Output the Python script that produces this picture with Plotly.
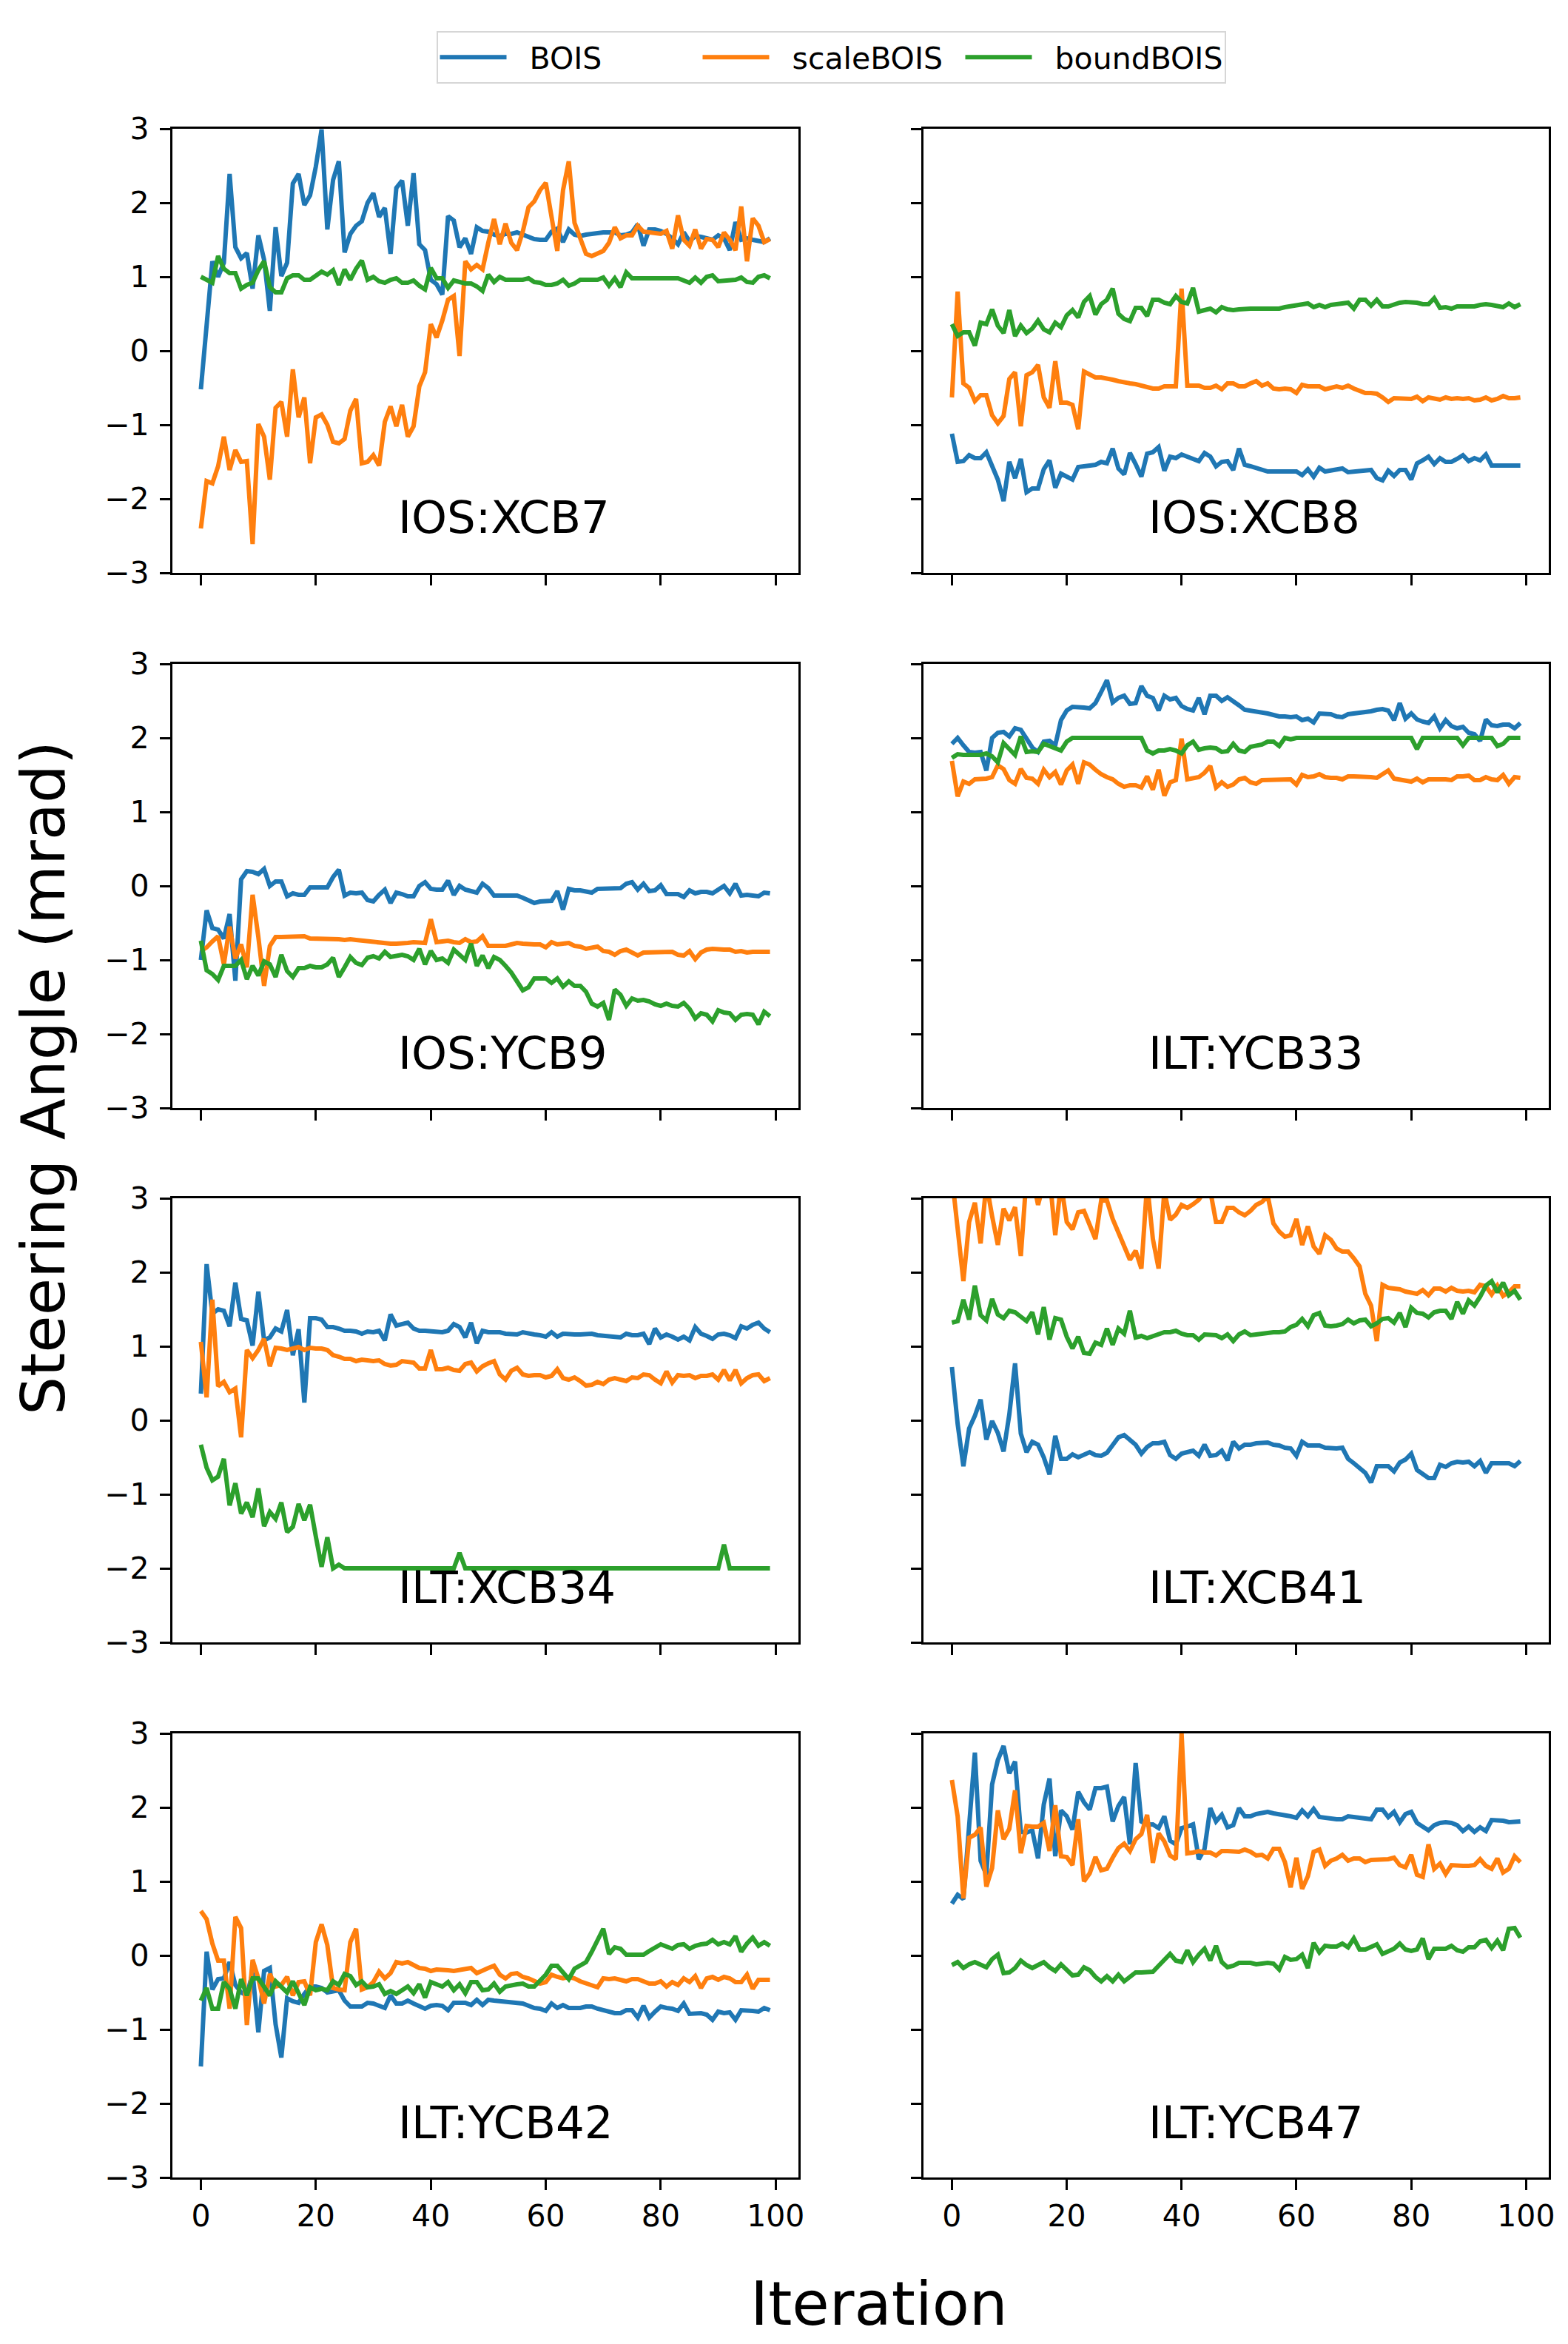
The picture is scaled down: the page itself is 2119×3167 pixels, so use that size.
import plotly.graph_objects as go

# iteration index shared by every panel
iterations = list(range(100))

# ---- IOS:XCB7 ----
xcb7_bois = [-0.52, 0.36, 1.21, 1.0, 1.19, 2.39, 1.40, 1.25, 1.32, 0.84,
             1.56, 1.23, 0.54, 1.67, 1.01, 1.19, 2.26, 2.39, 1.97, 2.10,
             2.49, 2.99, 1.64, 2.31, 2.56, 1.33, 1.58, 1.69, 1.75, 2.0,
             2.13, 1.81, 1.93, 1.31, 2.20, 2.30, 1.69, 2.40, 1.44, 1.36,
             0.96, 0.90, 0.76, 1.82, 1.76, 1.40, 1.52, 1.31, 1.67, 1.62,
             1.61, 1.57, 1.55, 1.58, 1.58, 1.60, 1.57, 1.54, 1.51, 1.50,
             1.50, 1.61, 1.65, 1.47, 1.64, 1.57, 1.55, 1.57, 1.58, 1.60,
             1.60, 1.60, 1.60, 1.56, 1.57, 1.60, 1.71, 1.42, 1.64, 1.64,
             1.62, 1.58, 1.52, 1.44, 1.60, 1.48, 1.55, 1.54, 1.52, 1.50,
             1.56, 1.52, 1.36, 1.74, 1.50, 1.52, 1.50, 1.48, 1.47, 1.52]
xcb7_scale = [-2.40, -1.76, -1.79, -1.56, -1.16, -1.61, -1.34, -1.50, -1.49, -2.61,
              -0.99, -1.16, -1.74, -0.77, -0.69, -1.16, -0.25, -0.90, -0.63, -1.52,
              -0.90, -0.86, -1.0, -1.23, -1.25, -1.19, -0.81, -0.65, -1.52, -1.50,
              -1.41, -1.55, -0.96, -0.75, -1.02, -0.73, -1.16, -1.02, -0.48, -0.29,
              0.36, 0.18, 0.41, 0.69, 0.74, -0.07, 1.21, 1.10, 1.16, 1.10,
              1.46, 1.78, 1.44, 1.72, 1.46, 1.36, 1.61, 1.94, 2.02, 2.17,
              2.27, 1.81, 1.35, 2.17, 2.56, 1.73, 1.52, 1.31, 1.28, 1.31,
              1.35, 1.46, 1.67, 1.52, 1.56, 1.56, 1.69, 1.61, 1.60, 1.60,
              1.58, 1.62, 1.38, 1.83, 1.50, 1.42, 1.64, 1.38, 1.51, 1.50,
              1.40, 1.60, 1.50, 1.36, 1.95, 1.21, 1.79, 1.69, 1.47, 1.51]
xcb7_bound = [1.0, 0.96, 0.92, 1.28, 1.11, 1.05, 1.05, 0.84, 0.89, 0.92,
              1.09, 1.21, 0.86, 0.79, 0.79, 0.98, 1.02, 1.02, 0.96, 0.96,
              1.02, 1.07, 1.03, 1.09, 0.89, 1.10, 0.96, 1.11, 1.22, 0.96,
              1.0, 0.94, 0.92, 0.96, 0.98, 0.92, 0.92, 0.95, 0.88, 0.83,
              1.12, 0.98, 0.98, 0.85, 0.95, 0.93, 0.91, 0.91, 0.87, 0.81,
              1.03, 0.93, 1.0, 0.96, 0.96, 0.96, 0.96, 0.98, 0.93, 0.92,
              0.89, 0.89, 0.91, 0.96, 0.88, 0.91, 0.96, 0.96, 0.96, 0.96,
              0.99, 0.88, 0.98, 0.86, 1.06, 0.98, 0.98, 0.98, 0.98, 0.99,
              0.99, 0.98, 0.98, 0.98, 0.95, 0.92, 0.99, 0.92, 1.0, 1.02,
              0.94, 0.95, 0.95, 0.96, 0.99, 0.93, 0.92, 1.0, 1.02, 0.98]

# ---- IOS:XCB8 ----
xcb8_bois = [-1.12, -1.50, -1.49, -1.41, -1.45, -1.45, -1.37, -1.56, -1.74, -2.03,
             -1.50, -1.72, -1.46, -1.91, -1.86, -1.86, -1.60, -1.48, -1.85, -1.66,
             -1.70, -1.74, -1.57, -1.56, -1.55, -1.54, -1.50, -1.52, -1.32, -1.59,
             -1.67, -1.38, -1.53, -1.70, -1.39, -1.37, -1.30, -1.62, -1.43, -1.45,
             -1.40, -1.43, -1.45, -1.49, -1.38, -1.43, -1.56, -1.50, -1.49, -1.61,
             -1.32, -1.54, -1.56, -1.58, -1.60, -1.63, -1.63, -1.63, -1.64, -1.63,
             -1.63, -1.68, -1.60, -1.70, -1.58, -1.63, -1.62, -1.60, -1.59, -1.64,
             -1.63, -1.62, -1.61, -1.61, -1.72, -1.75, -1.62, -1.69, -1.61, -1.61,
             -1.74, -1.52, -1.48, -1.43, -1.53, -1.45, -1.50, -1.50, -1.46, -1.41,
             -1.49, -1.45, -1.48, -1.40, -1.55, -1.55, -1.54, -1.55, -1.55, -1.55]
xcb8_scale = [-0.63, 0.80, -0.44, -0.50, -0.68, -0.60, -0.60, -0.87, -0.98, -0.88,
              -0.38, -0.29, -1.02, -0.33, -0.29, -0.19, -0.63, -0.77, -0.14, -0.70,
              -0.70, -0.73, -1.06, -0.28, -0.32, -0.36, -0.36, -0.37, -0.39, -0.41,
              -0.43, -0.44, -0.45, -0.47, -0.50, -0.51, -0.51, -0.48, -0.48, -0.48,
              0.84, -0.47, -0.47, -0.47, -0.50, -0.50, -0.47, -0.52, -0.44, -0.44,
              -0.48, -0.48, -0.44, -0.41, -0.47, -0.44, -0.51, -0.52, -0.51, -0.52,
              -0.57, -0.46, -0.48, -0.48, -0.48, -0.52, -0.50, -0.48, -0.50, -0.47,
              -0.51, -0.54, -0.57, -0.57, -0.58, -0.63, -0.69, -0.64, -0.64, -0.64,
              -0.65, -0.62, -0.68, -0.63, -0.64, -0.66, -0.63, -0.65, -0.64, -0.65,
              -0.64, -0.67, -0.66, -0.63, -0.67, -0.65, -0.61, -0.64, -0.64, -0.63]
xcb8_bound = [0.36, 0.20, 0.25, 0.25, 0.07, 0.38, 0.36, 0.56, 0.34, 0.24,
              0.55, 0.20, 0.34, 0.24, 0.30, 0.41, 0.29, 0.25, 0.38, 0.32,
              0.48, 0.55, 0.45, 0.66, 0.74, 0.49, 0.63, 0.69, 0.84, 0.50,
              0.43, 0.40, 0.58, 0.58, 0.47, 0.69, 0.69, 0.65, 0.63, 0.74,
              0.66, 0.64, 0.85, 0.53, 0.55, 0.57, 0.52, 0.59, 0.56, 0.55,
              0.56, 0.57, 0.57, 0.57, 0.57, 0.57, 0.57, 0.57, 0.59, 0.60,
              0.62, 0.63, 0.64, 0.59, 0.62, 0.59, 0.62, 0.63, 0.64, 0.65,
              0.57, 0.69, 0.69, 0.61, 0.69, 0.60, 0.60, 0.63, 0.65, 0.66,
              0.66, 0.65, 0.63, 0.63, 0.71, 0.58, 0.59, 0.57, 0.60, 0.60,
              0.59, 0.60, 0.62, 0.63, 0.62, 0.60, 0.59, 0.64, 0.59, 0.63]

# ---- IOS:YCB9 ----
ycb9_bois = [-1.0, -0.33, -0.57, -0.59, -0.71, -0.38, -1.28, 0.09, 0.20, 0.19,
             0.16, 0.23, 0.0, 0.06, 0.06, -0.14, -0.10, -0.12, -0.12, -0.02,
             -0.02, -0.02, -0.02, 0.12, 0.22, -0.13, -0.09, -0.10, -0.09, -0.19,
             -0.21, -0.12, -0.05, -0.23, -0.09, -0.11, -0.14, -0.14, 0.0, 0.05,
             -0.04, -0.05, -0.05, 0.07, -0.12, 0.0, -0.05, -0.07, -0.09, 0.03,
             -0.03, -0.13, -0.13, -0.13, -0.13, -0.13, -0.16, -0.19, -0.23, -0.21,
             -0.20, -0.20, -0.07, -0.32, -0.04, -0.06, -0.06, -0.07, -0.09, -0.04,
             -0.04, -0.04, -0.04, -0.03, 0.03, 0.05, -0.05, 0.03, -0.07, -0.06,
             0.01, -0.11, -0.11, -0.11, -0.15, -0.06, -0.10, -0.08, -0.08, -0.10,
             -0.05, 0.0, -0.10, 0.03, -0.13, -0.12, -0.13, -0.14, -0.09, -0.10]
ycb9_scale = [-0.88, -0.83, -0.75, -0.68, -1.06, -0.55, -0.98, -0.79, -1.10, -0.12,
              -0.69, -1.35, -0.81, -0.69, -0.69, -0.69, -0.68, -0.69, -0.68, -0.71,
              -0.71, -0.71, -0.71, -0.72, -0.72, -0.73, -0.72, -0.73, -0.74, -0.75,
              -0.76, -0.76, -0.77, -0.78, -0.78, -0.78, -0.77, -0.76, -0.77, -0.77,
              -0.45, -0.76, -0.75, -0.74, -0.76, -0.77, -0.72, -0.76, -0.75, -0.68,
              -0.81, -0.81, -0.81, -0.81, -0.79, -0.77, -0.78, -0.79, -0.79, -0.79,
              -0.83, -0.76, -0.79, -0.78, -0.77, -0.81, -0.82, -0.85, -0.83, -0.82,
              -0.88, -0.89, -0.93, -0.88, -0.86, -0.90, -0.94, -0.90, -0.90, -0.90,
              -0.90, -0.90, -0.89, -0.93, -0.94, -0.88, -0.99, -0.90, -0.86, -0.85,
              -0.86, -0.86, -0.86, -0.89, -0.88, -0.90, -0.89, -0.89, -0.90, -0.89]
ycb9_bound = [-0.74, -1.14, -1.19, -1.27, -1.08, -1.08, -1.08, -1.0, -1.26, -1.08,
              -1.21, -1.02, -1.06, -1.23, -0.93, -1.15, -1.23, -1.11, -1.11, -1.08,
              -1.10, -1.10, -1.06, -0.97, -1.23, -1.10, -0.96, -1.04, -1.07, -0.97,
              -0.95, -0.98, -0.89, -0.96, -0.94, -0.93, -0.95, -1.0, -0.85, -1.06,
              -0.88, -1.0, -0.98, -1.04, -0.86, -0.94, -1.0, -0.78, -1.08, -0.94,
              -1.11, -0.96, -1.0, -1.08, -1.17, -1.29, -1.41, -1.37, -1.25, -1.25,
              -1.25, -1.31, -1.25, -1.36, -1.29, -1.35, -1.35, -1.43, -1.59, -1.63,
              -1.58, -1.81, -1.40, -1.47, -1.62, -1.52, -1.55, -1.54, -1.56, -1.60,
              -1.62, -1.59, -1.62, -1.63, -1.58, -1.66, -1.79, -1.72, -1.74, -1.83,
              -1.68, -1.71, -1.72, -1.81, -1.74, -1.73, -1.74, -1.87, -1.70, -1.76]

# ---- ILT:YCB33 ----
ycb33_bois = [1.92, 2.0, 1.90, 1.81, 1.80, 1.81, 1.56, 2.0, 2.07, 2.08,
              2.02, 2.13, 2.11, 1.99, 1.87, 1.81, 1.95, 1.96, 1.90, 2.24,
              2.37, 2.42, 2.42, 2.41, 2.40, 2.47, 2.62, 2.78, 2.48, 2.54,
              2.57, 2.46, 2.47, 2.70, 2.57, 2.54, 2.37, 2.57, 2.52, 2.54,
              2.43, 2.39, 2.37, 2.54, 2.32, 2.57, 2.57, 2.50, 2.55, 2.50,
              2.44, 2.38, 2.37, 2.36, 2.35, 2.33, 2.31, 2.29, 2.29, 2.28,
              2.29, 2.24, 2.26, 2.21, 2.33, 2.33, 2.32, 2.29, 2.28, 2.32,
              2.33, 2.33, 2.35, 2.36, 2.38, 2.39, 2.37, 2.24, 2.47, 2.26,
              2.33, 2.25, 2.22, 2.20, 2.29, 2.13, 2.24, 2.16, 2.13, 2.15,
              2.07, 2.05, 1.96, 2.25, 2.17, 2.16, 2.18, 2.18, 2.13, 2.20]
ycb33_scale = [1.69, 1.21, 1.41, 1.38, 1.44, 1.44, 1.45, 1.47, 1.63, 1.58,
               1.43, 1.38, 1.58, 1.46, 1.45, 1.38, 1.57, 1.47, 1.54, 1.37,
               1.56, 1.64, 1.38, 1.67, 1.64, 1.57, 1.51, 1.47, 1.44, 1.38,
               1.34, 1.36, 1.36, 1.33, 1.48, 1.30, 1.57, 1.22, 1.40, 1.43,
               1.99, 1.44, 1.46, 1.47, 1.53, 1.62, 1.33, 1.40, 1.34, 1.37,
               1.44, 1.46, 1.40, 1.38, 1.43, 1.43, 1.43, 1.43, 1.44, 1.44,
               1.37, 1.50, 1.47, 1.48, 1.51, 1.47, 1.46, 1.46, 1.44, 1.48,
               1.48, 1.48, 1.47, 1.47, 1.46, 1.51, 1.56, 1.45, 1.44, 1.43,
               1.41, 1.45, 1.40, 1.44, 1.44, 1.45, 1.44, 1.43, 1.48, 1.48,
               1.49, 1.43, 1.43, 1.47, 1.44, 1.43, 1.50, 1.38, 1.47, 1.46]
ycb33_bound = [1.73, 1.78, 1.77, 1.77, 1.77, 1.77, 1.79, 1.75, 1.67, 1.93,
               1.85, 1.77, 2.02, 1.81, 1.82, 1.81, 1.92, 1.89, 1.86, 1.83,
               1.95, 2.0, 2.0, 2.0, 2.0, 2.0, 2.0, 2.0, 2.0, 2.0,
               2.0, 2.0, 2.0, 2.0, 1.83, 1.79, 1.83, 1.83, 1.85, 1.83,
               1.79, 1.90, 1.95, 1.84, 1.86, 1.87, 1.86, 1.81, 1.82, 1.92,
               1.83, 1.81, 1.88, 1.89, 1.91, 1.95, 1.95, 1.89, 2.0, 1.98,
               2.0, 2.0, 2.0, 2.0, 2.0, 2.0, 2.0, 2.0, 2.0, 2.0,
               2.0, 2.0, 2.0, 2.0, 2.0, 2.0, 2.0, 2.0, 2.0, 2.0,
               2.0, 1.85, 2.0, 2.0, 2.0, 2.0, 2.0, 2.0, 2.0, 1.90,
               2.0, 2.0, 2.0, 2.0, 2.0, 1.89, 1.92, 2.0, 2.0, 2.0]

# ---- ILT:XCB34 ----
xcb34_bois = [0.36, 2.11, 1.44, 1.50, 1.48, 1.27, 1.86, 1.37, 1.35, 1.01,
              1.74, 1.08, 1.12, 1.24, 1.20, 1.49, 0.88, 1.23, 0.24, 1.38,
              1.38, 1.36, 1.26, 1.26, 1.24, 1.21, 1.21, 1.20, 1.17, 1.20,
              1.19, 1.21, 1.08, 1.43, 1.28, 1.30, 1.32, 1.24, 1.21, 1.21,
              1.20, 1.19, 1.19, 1.21, 1.30, 1.26, 1.12, 1.32, 1.04, 1.21,
              1.19, 1.19, 1.19, 1.17, 1.16, 1.16, 1.19, 1.17, 1.16, 1.15,
              1.13, 1.19, 1.13, 1.17, 1.16, 1.16, 1.16, 1.16, 1.17, 1.15,
              1.14, 1.13, 1.13, 1.12, 1.17, 1.15, 1.15, 1.17, 1.03, 1.24,
              1.12, 1.16, 1.13, 1.09, 1.13, 1.08, 1.26, 1.17, 1.14, 1.10,
              1.16, 1.17, 1.15, 1.11, 1.27, 1.24, 1.29, 1.32, 1.24, 1.19]
xcb34_scale = [1.06, 0.31, 1.63, 0.46, 0.52, 0.38, 0.43, -0.23, 0.95, 0.84,
               0.95, 1.10, 0.73, 0.98, 0.97, 0.95, 0.97, 0.99, 0.95, 0.98,
               0.97, 0.97, 0.95, 0.88, 0.86, 0.83, 0.83, 0.80, 0.82, 0.81,
               0.80, 0.81, 0.76, 0.74, 0.75, 0.80, 0.79, 0.78, 0.70, 0.70,
               0.95, 0.69, 0.69, 0.71, 0.68, 0.67, 0.76, 0.78, 0.66, 0.73,
               0.77, 0.80, 0.62, 0.55, 0.67, 0.71, 0.62, 0.60, 0.61, 0.61,
               0.58, 0.60, 0.69, 0.57, 0.55, 0.58, 0.53, 0.47, 0.48, 0.52,
               0.49, 0.55, 0.57, 0.55, 0.53, 0.58, 0.57, 0.62, 0.61, 0.55,
               0.50, 0.66, 0.51, 0.61, 0.60, 0.61, 0.57, 0.60, 0.60, 0.62,
               0.55, 0.68, 0.54, 0.68, 0.50, 0.57, 0.61, 0.62, 0.53, 0.57]
xcb34_bound = [-0.33, -0.64, -0.81, -0.76, -0.52, -1.15, -0.85, -1.26, -1.11, -1.31,
               -0.92, -1.43, -1.24, -1.33, -1.11, -1.51, -1.44, -1.13, -1.35, -1.14,
               -1.57, -1.98, -1.58, -2.0, -1.95, -2.0, -2.0, -2.0, -2.0, -2.0,
               -2.0, -2.0, -2.0, -2.0, -2.0, -2.0, -2.0, -2.0, -2.0, -2.0,
               -2.0, -2.0, -2.0, -2.0, -2.0, -1.79, -2.0, -2.0, -2.0, -2.0,
               -2.0, -2.0, -2.0, -2.0, -2.0, -2.0, -2.0, -2.0, -2.0, -2.0,
               -2.0, -2.0, -2.0, -2.0, -2.0, -2.0, -2.0, -2.0, -2.0, -2.0,
               -2.0, -2.0, -2.0, -2.0, -2.0, -2.0, -2.0, -2.0, -2.0, -2.0,
               -2.0, -2.0, -2.0, -2.0, -2.0, -2.0, -2.0, -2.0, -2.0, -2.0,
               -2.0, -1.68, -2.0, -2.0, -2.0, -2.0, -2.0, -2.0, -2.0, -2.0]

# ---- ILT:XCB41 ----
xcb41_bois = [0.72, -0.05, -0.62, -0.11, 0.06, 0.28, -0.26, -0.01, -0.17, -0.42,
              0.08, 0.77, -0.18, -0.43, -0.29, -0.33, -0.50, -0.73, -0.21, -0.52,
              -0.52, -0.46, -0.50, -0.47, -0.43, -0.47, -0.48, -0.44, -0.33, -0.23,
              -0.20, -0.27, -0.33, -0.45, -0.36, -0.31, -0.31, -0.29, -0.47, -0.52,
              -0.45, -0.43, -0.41, -0.48, -0.33, -0.48, -0.47, -0.41, -0.54, -0.29,
              -0.38, -0.33, -0.33, -0.31, -0.30, -0.30, -0.33, -0.34, -0.37, -0.38,
              -0.48, -0.29, -0.34, -0.34, -0.34, -0.37, -0.38, -0.38, -0.37, -0.52,
              -0.58, -0.64, -0.71, -0.84, -0.62, -0.62, -0.62, -0.69, -0.57, -0.53,
              -0.45, -0.67, -0.73, -0.78, -0.78, -0.60, -0.63, -0.58, -0.56, -0.57,
              -0.56, -0.62, -0.55, -0.71, -0.58, -0.58, -0.58, -0.58, -0.62, -0.55]
xcb41_scale = [3.3, 2.54, 1.88, 2.68, 2.94, 2.39, 3.2, 2.76, 2.37, 2.86,
               2.70, 2.88, 2.22, 3.3, 3.3, 2.91, 3.2, 3.3, 2.50, 3.2,
               2.68, 2.58, 2.81, 2.83, 2.64, 2.45, 2.97, 2.97, 2.72, 2.54,
               2.35, 2.17, 2.29, 2.05, 3.2, 2.45, 2.05, 3.1, 2.71, 2.78,
               2.91, 2.87, 2.92, 2.98, 3.1, 3.1, 2.68, 2.68, 2.87, 2.87,
               2.81, 2.77, 2.83, 2.91, 2.95, 3.03, 2.66, 2.55, 2.48, 2.50,
               2.72, 2.37, 2.62, 2.35, 2.25, 2.50, 2.44, 2.32, 2.28, 2.28,
               2.19, 2.08, 1.71, 1.55, 1.07, 1.83, 1.79, 1.78, 1.77, 1.74,
               1.72, 1.71, 1.76, 1.69, 1.78, 1.78, 1.74, 1.79, 1.75, 1.74,
               1.75, 1.73, 1.83, 1.81, 1.70, 1.82, 1.68, 1.73, 1.81, 1.81]
xcb41_bound = [1.32, 1.34, 1.63, 1.36, 1.82, 1.42, 1.35, 1.64, 1.43, 1.38,
               1.48, 1.46, 1.40, 1.34, 1.46, 1.16, 1.53, 1.09, 1.38, 1.36,
               1.13, 0.97, 1.13, 0.91, 0.90, 1.05, 1.02, 1.24, 1.02, 1.24,
               1.17, 1.48, 1.12, 1.14, 1.11, 1.14, 1.17, 1.19, 1.19, 1.21,
               1.17, 1.15, 1.15, 1.09, 1.16, 1.15, 1.15, 1.11, 1.16, 1.07,
               1.16, 1.20, 1.15, 1.16, 1.17, 1.19, 1.19, 1.19, 1.20, 1.26,
               1.29, 1.37, 1.27, 1.42, 1.45, 1.28, 1.27, 1.28, 1.30, 1.36,
               1.31, 1.35, 1.36, 1.27, 1.31, 1.37, 1.38, 1.32, 1.45, 1.26,
               1.52, 1.45, 1.44, 1.39, 1.46, 1.48, 1.48, 1.37, 1.60, 1.44,
               1.62, 1.55, 1.67, 1.82, 1.88, 1.73, 1.86, 1.69, 1.75, 1.63]

# ---- ILT:YCB42 ----
ycb42_bois = [-1.50, 0.05, -0.46, -0.32, -0.31, -0.09, -0.40, -0.50, -0.54, -0.23,
              -1.04, -0.21, -0.17, -0.93, -1.38, -0.58, -0.62, -0.64, -0.52, -0.42,
              -0.42, -0.44, -0.50, -0.48, -0.47, -0.61, -0.69, -0.69, -0.69, -0.64,
              -0.65, -0.68, -0.71, -0.54, -0.65, -0.65, -0.61, -0.65, -0.69, -0.72,
              -0.68, -0.67, -0.68, -0.74, -0.64, -0.64, -0.64, -0.67, -0.60, -0.67,
              -0.60, -0.61, -0.62, -0.62, -0.63, -0.64, -0.65, -0.68, -0.71, -0.72,
              -0.75, -0.65, -0.71, -0.67, -0.71, -0.71, -0.71, -0.69, -0.69, -0.72,
              -0.74, -0.76, -0.78, -0.78, -0.74, -0.74, -0.84, -0.68, -0.84, -0.76,
              -0.69, -0.71, -0.72, -0.75, -0.65, -0.79, -0.79, -0.78, -0.80, -0.87,
              -0.76, -0.78, -0.77, -0.87, -0.74, -0.74, -0.75, -0.76, -0.71, -0.74]
ycb42_scale = [0.60, 0.49, 0.16, -0.07, -0.07, -0.72, 0.52, 0.37, -0.94, -0.06,
               -0.31, -0.65, -0.25, -0.42, -0.40, -0.29, -0.54, -0.36, -0.35, -0.54,
               0.18, 0.42, 0.14, -0.44, -0.46, -0.47, 0.18, 0.36, -0.46, -0.43,
               -0.36, -0.22, -0.31, -0.24, -0.09, -0.11, -0.09, -0.13, -0.17, -0.18,
               -0.21, -0.19, -0.19, -0.20, -0.21, -0.20, -0.18, -0.17, -0.24, -0.20,
               -0.17, -0.14, -0.26, -0.31, -0.25, -0.24, -0.29, -0.31, -0.35, -0.38,
               -0.36, -0.26, -0.29, -0.31, -0.29, -0.31, -0.35, -0.38, -0.40, -0.43,
               -0.31, -0.32, -0.31, -0.33, -0.35, -0.32, -0.32, -0.35, -0.38, -0.38,
               -0.35, -0.42, -0.36, -0.40, -0.31, -0.36, -0.28, -0.44, -0.31, -0.29,
               -0.33, -0.29, -0.31, -0.36, -0.36, -0.26, -0.45, -0.33, -0.33, -0.33]
ycb42_bound = [-0.61, -0.44, -0.72, -0.72, -0.36, -0.45, -0.72, -0.32, -0.54, -0.31,
               -0.31, -0.42, -0.54, -0.35, -0.42, -0.50, -0.35, -0.52, -0.67, -0.43,
               -0.47, -0.45, -0.47, -0.35, -0.40, -0.25, -0.28, -0.40, -0.35, -0.43,
               -0.42, -0.39, -0.52, -0.48, -0.52, -0.47, -0.42, -0.51, -0.39, -0.57,
               -0.36, -0.39, -0.42, -0.36, -0.47, -0.39, -0.51, -0.36, -0.36, -0.47,
               -0.46, -0.38, -0.49, -0.42, -0.40, -0.39, -0.38, -0.42, -0.42, -0.35,
               -0.26, -0.14, -0.14, -0.23, -0.32, -0.18, -0.14, -0.09, 0.05, 0.21,
               0.36, 0.02, 0.11, 0.09, 0.01, 0.01, 0.01, 0.01, 0.06, 0.10,
               0.15, 0.12, 0.09, 0.14, 0.15, 0.09, 0.13, 0.15, 0.16, 0.21,
               0.15, 0.18, 0.15, 0.26, 0.05, 0.16, 0.24, 0.13, 0.18, 0.13]

# ---- ILT:YCB47 ----
ycb47_bois = [0.70, 0.82, 0.76, 1.79, 2.74, 1.28, 1.09, 2.31, 2.64, 2.83,
              2.46, 2.62, 1.67, 1.66, 1.69, 1.31, 2.04, 2.39, 1.34, 1.96,
              1.88, 1.70, 2.21, 2.07, 1.97, 2.26, 2.26, 2.28, 1.81, 2.02,
              2.14, 1.50, 2.60, 1.81, 1.77, 1.77, 1.72, 1.88, 1.55, 1.50,
              1.72, 1.74, 1.77, 1.30, 1.44, 1.99, 1.81, 1.90, 1.73, 1.76,
              1.99, 1.88, 1.88, 1.91, 1.93, 1.94, 1.92, 1.91, 1.90, 1.88,
              1.86, 1.96, 1.88, 1.98, 1.87, 1.86, 1.84, 1.84, 1.84, 1.88,
              1.87, 1.86, 1.84, 1.84, 1.97, 1.97, 1.87, 1.94, 1.80, 1.91,
              1.94, 1.79, 1.74, 1.69, 1.76, 1.79, 1.80, 1.79, 1.76, 1.68,
              1.74, 1.67, 1.73, 1.68, 1.83, 1.83, 1.82, 1.80, 1.81, 1.81]
ycb47_scale = [2.37, 1.88, 0.77, 1.59, 1.63, 1.73, 0.93, 1.18, 1.96, 1.57,
               1.71, 2.23, 1.38, 1.75, 1.74, 1.74, 1.79, 1.41, 2.03, 1.34,
               1.33, 1.22, 1.84, 1.0, 1.11, 1.33, 1.15, 1.17, 1.32, 1.45,
               1.51, 1.41, 1.57, 1.64, 1.90, 1.25, 1.65, 1.54, 1.35, 1.30,
               3.0, 1.38, 1.39, 1.41, 1.39, 1.39, 1.35, 1.41, 1.41, 1.40,
               1.40, 1.43, 1.40, 1.35, 1.36, 1.31, 1.44, 1.44, 1.26, 0.92,
               1.32, 0.90, 1.07, 1.40, 1.43, 1.21, 1.28, 1.31, 1.36, 1.28,
               1.31, 1.31, 1.26, 1.29, 1.29, 1.29, 1.30, 1.32, 1.22, 1.19,
               1.36, 1.09, 1.06, 1.50, 1.17, 1.24, 1.10, 1.22, 1.21, 1.21,
               1.21, 1.22, 1.30, 1.21, 1.17, 1.31, 1.12, 1.17, 1.34, 1.26]
ycb47_bound = [-0.13, -0.09, -0.17, -0.12, -0.09, -0.13, -0.16, -0.05, 0.01, -0.24,
               -0.23, -0.17, -0.07, -0.13, -0.17, -0.13, -0.09, -0.16, -0.21, -0.12,
               -0.20, -0.27, -0.26, -0.16, -0.20, -0.29, -0.35, -0.28, -0.35, -0.26,
               -0.35, -0.28, -0.23, -0.23, -0.22, -0.22, -0.14, -0.05, 0.02, -0.07,
               -0.09, 0.07, -0.09, 0.01, 0.09, -0.07, 0.13, -0.09, -0.16, -0.14,
               -0.10, -0.10, -0.10, -0.12, -0.11, -0.10, -0.11, -0.19, -0.02, -0.06,
               -0.05, 0.01, -0.17, 0.17, 0.04, 0.13, 0.12, 0.12, 0.16, 0.11,
               0.23, 0.08, 0.08, 0.12, 0.15, 0.02, 0.05, 0.09, 0.16, 0.08,
               0.06, 0.08, 0.23, -0.05, 0.09, 0.09, 0.09, 0.13, 0.07, 0.05,
               0.11, 0.11, 0.19, 0.21, 0.10, 0.20, 0.07, 0.36, 0.37, 0.24]

panels = [
    ("IOS:XCB7", xcb7_bois, xcb7_scale, xcb7_bound),
    ("IOS:XCB8", xcb8_bois, xcb8_scale, xcb8_bound),
    ("IOS:YCB9", ycb9_bois, ycb9_scale, ycb9_bound),
    ("ILT:YCB33", ycb33_bois, ycb33_scale, ycb33_bound),
    ("ILT:XCB34", xcb34_bois, xcb34_scale, xcb34_bound),
    ("ILT:XCB41", xcb41_bois, xcb41_scale, xcb41_bound),
    ("ILT:YCB42", ycb42_bois, ycb42_scale, ycb42_bound),
    ("ILT:YCB47", ycb47_bois, ycb47_scale, ycb47_bound),
]
methods = ["BOIS", "scaleBOIS", "boundBOIS"]
colors = ["#1f77b4", "#ff7f0e", "#2ca02c"]
y_ticks = [-3, -2, -1, 0, 1, 2, 3]
y_ticktext = ["\u22123", "\u22122", "\u22121", "0", "1", "2", "3"]
x_ticks = [0, 20, 40, 60, 80, 100]

# page geometry (pixels), converted to paper fractions below
W, H = 2119, 3167
col_px = [(225, 1071), (1240, 2085)]
row_top_px = [166, 889, 1611, 2334]
row_h_px = 600
FONT = "DejaVu Sans"
GAP = "\u00a0\u00a0"  # space between legend line and its label

fig = go.Figure()
layout = {}
annotations = []

for i, (name, bois, scale, bound) in enumerate(panels):
    n = i + 1
    row, col = i // 2, i % 2
    xa = "xaxis" if n == 1 else f"xaxis{n}"
    ya = "yaxis" if n == 1 else f"yaxis{n}"
    xr = "x" if n == 1 else f"x{n}"
    yr = "y" if n == 1 else f"y{n}"

    # one line per method
    for series, method, color in zip((bois, scale, bound), methods, colors):
        fig.add_trace(go.Scatter(
            x=iterations, y=series, mode="lines", name=GAP + method,
            line=dict(color=color, width=6),
            legendgroup=method, showlegend=(i == 0),
            xaxis=xr, yaxis=yr))

    x0, x1 = col_px[col]
    top = row_top_px[row]
    axis_style = dict(
        showline=True, linecolor="black", linewidth=3.3, mirror=True,
        ticks="outside", ticklen=14, tickwidth=3.3, tickcolor="black",
        showgrid=False, zeroline=False,
        tickfont=dict(family=FONT, size=41, color="black"))
    layout[xa] = dict(
        domain=[x0 / W, x1 / W], anchor=yr, range=[-4.95, 103.95],
        tickvals=x_ticks, showticklabels=(row == 3), **axis_style)
    layout[ya] = dict(
        domain=[1 - (top + row_h_px) / H, 1 - top / H], anchor=xr, range=[-3, 3],
        tickvals=y_ticks, ticktext=y_ticktext, showticklabels=(col == 0),
        ticklabelstandoff=6, **axis_style)

    # corrector name inside the panel
    annotations.append(dict(
        text=name, xref=xr, yref=yr, x=34, y=-2.25,
        xanchor="left", yanchor="middle", showarrow=False,
        font=dict(family=FONT, size=61, color="black")))

annotations.append(dict(
    text="Steering Angle (mrad)", xref="paper", yref="paper",
    x=50 / W, y=1 - 1449 / H, textangle=-90, showarrow=False,
    xanchor="center", yanchor="middle",
    font=dict(family=FONT, size=82, color="black")))
annotations.append(dict(
    text="Iteration", xref="paper", yref="paper",
    x=1180 / W, y=1 - 3104 / H, showarrow=False,
    xanchor="center", yanchor="middle",
    font=dict(family=FONT, size=82, color="black")))

fig.update_layout(
    width=W, height=H, autosize=False,
    margin=dict(l=0, r=0, t=0, b=0, autoexpand=False),
    paper_bgcolor="white", plot_bgcolor="white",
    font=dict(family=FONT, color="black"),
    annotations=annotations,
    legend=dict(
        orientation="h", x=1115 / W, xanchor="center",
        y=1 - 34 / H, yanchor="top",
        bgcolor="white", bordercolor="#d6d6d6", borderwidth=2,
        font=dict(family=FONT, size=41, color="black"),
        itemwidth=90, entrywidthmode="pixels", entrywidth=250),
    **layout)

fig.write_html("out.html")
